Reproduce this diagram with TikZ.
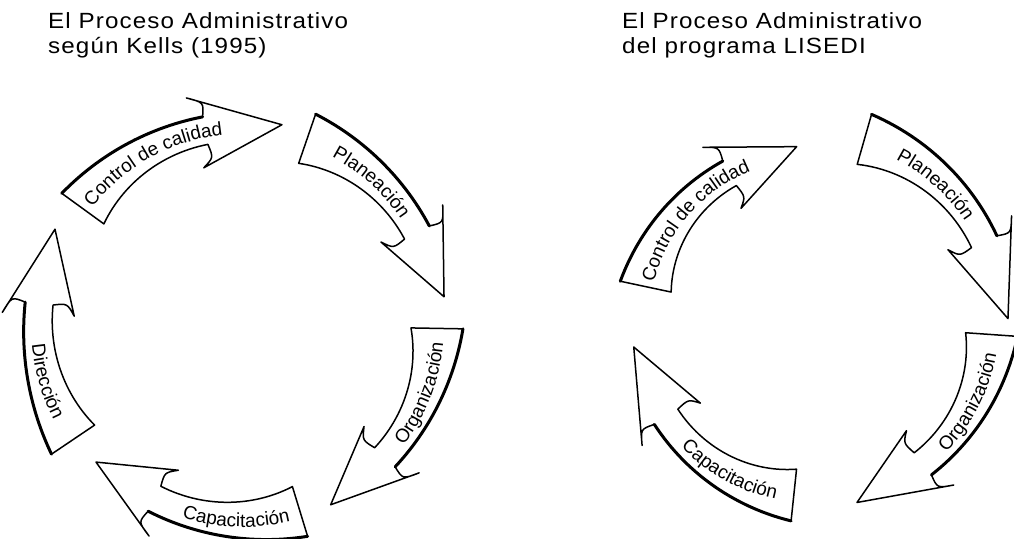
\documentclass[tikz,border=0pt]{standalone}
\usepackage{fontspec}
\setmainfont{Liberation Sans}
\newfontfamily\titlefont[FakeStretch=1.1,LetterSpace=5]{Liberation Sans}
\newfontfamily\lblfont{Liberation Sans}
\usetikzlibrary{decorations.text,calc}

\newcommand{\lblfmt}{\lblfont\fontsize{19}{19}\selectfont}
\def\pawt{26}\def\pawh{14}\def\pahb{36}\def\patip{6}

% #1 cx, #2 cy, #3 mid radius, #4 tail angle, #5 barb angle, #6 tip angle,
% #7 label, #8 1 = text tops outward, 0 = inward, #9 label centre angle
\newcommand{\procarrow}[9]{%
  \pgfmathsetmacro\paJ{#5-3}%
  \path[arrowbody]
    plot[domain=#4:\paJ, samples=30, variable=\pat]
      ({#1+(#3+\pawh+(\pawt-\pawh)*(((\pat)-(\paJ))/((#4)-(\paJ)))^2)*cos(\pat)},
       {#2+(#3+\pawh+(\pawt-\pawh)*(((\pat)-(\paJ))/((#4)-(\paJ)))^2)*sin(\pat)})
    .. controls ({#1+(#3+\pahb-8)*cos(\paJ-1)},{#2+(#3+\pahb-8)*sin(\paJ-1)}) ..
      ({#1+(#3+\pahb)*cos(#5)},{#2+(#3+\pahb)*sin(#5)})
    -- ({#1+(#3+\patip)*cos(#6)},{#2+(#3+\patip)*sin(#6)})
    -- ({#1+(#3-\pahb)*cos(#5)},{#2+(#3-\pahb)*sin(#5)})
    .. controls ({#1+(#3-\pahb+8)*cos(\paJ-1)},{#2+(#3-\pahb+8)*sin(\paJ-1)}) ..
      ({#1+(#3-\pawh)*cos(\paJ)},{#2+(#3-\pawh)*sin(\paJ)})
    -- plot[domain=\paJ:#4, samples=30, variable=\pat]
      ({#1+(#3-\pawh-(\pawt-\pawh)*(((\pat)-(\paJ))/((#4)-(\paJ)))^2)*cos(\pat)},
       {#2+(#3-\pawh-(\pawt-\pawh)*(((\pat)-(\paJ))/((#4)-(\paJ)))^2)*sin(\pat)})
    -- cycle;
  \draw[outeredge]
    plot[domain=#4:\paJ, samples=30, variable=\pat]
      ({#1+(#3+\pawh+(\pawt-\pawh)*(((\pat)-(\paJ))/((#4)-(\paJ)))^2)*cos(\pat)},
       {#2+(#3+\pawh+(\pawt-\pawh)*(((\pat)-(\paJ))/((#4)-(\paJ)))^2)*sin(\pat)});
  \ifnum#8=1
    \pgfmathsetmacro\paR{#3-7}%
    \pgfmathsetmacro\paA{#9+70}%
    \pgfmathsetmacro\paB{#9-70}%
  \else
    \pgfmathsetmacro\paR{#3+7}%
    \pgfmathsetmacro\paA{#9-70}%
    \pgfmathsetmacro\paB{#9+70}%
  \fi
  \path[decorate,decoration={text along path,text align=center,text={|\lblfmt|#7}}]
    ({#1+\paR*cos(\paA)},{#2+\paR*sin(\paA)})
    arc[start angle=\paA, end angle=\paB, radius=\paR pt];
}

\begin{document}
\begin{tikzpicture}[x=1pt,y=1pt,
  arrowbody/.style={fill=white,draw=black,line width=1.5pt,line join=round},
  outeredge/.style={draw=black,line width=3pt,line cap=round},
  ttl/.style={anchor=base west,inner sep=0pt,font=\titlefont\fontsize{22}{22}\selectfont}]
\useasboundingbox (0,0) rectangle (1014,538);
\clip (0,0) rectangle (1014,538);
\fill[white] (0,0) rectangle (1014,538);

\node[ttl] (t1a) at (48,509) {El Proceso Administrativo};
\node[ttl] (t1b) at (48,484) {según Kells (1995)};
\node[ttl] (t2a) at (622,509) {El Proceso Administrativo};
\node[ttl] (t2b) at (622,484) {del programa LISEDI};

% left cycle
\procarrow{243}{213}{198}{144}{104}{79}{Control de calidad}{1}{119}
\procarrow{243}{213}{197}{71}{31}{8}{Planeación}{1}{48}
\procarrow{243}{213}{194}{-1}{-40}{-64}{Organización}{0}{-21}
\procarrow{243}{213}{195}{-73}{-114}{-137}{Capacitación}{0}{-92}
\procarrow{243}{213}{205}{214}{177}{153}{Dirección}{0}{196}

% right cycle
\procarrow{812}{216}{170}{168}{122}{95}{Control de calidad}{1}{139}
\procarrow{812}{216}{190}{74}{28}{1}{Planeación}{1}{48}
\procarrow{812}{216}{180}{-4}{-49}{-76}{Organización}{0}{-27}
\procarrow{812}{216}{174}{-96}{-144}{-172}{Capacitación}{0}{-119}
\end{tikzpicture}
\end{document}
